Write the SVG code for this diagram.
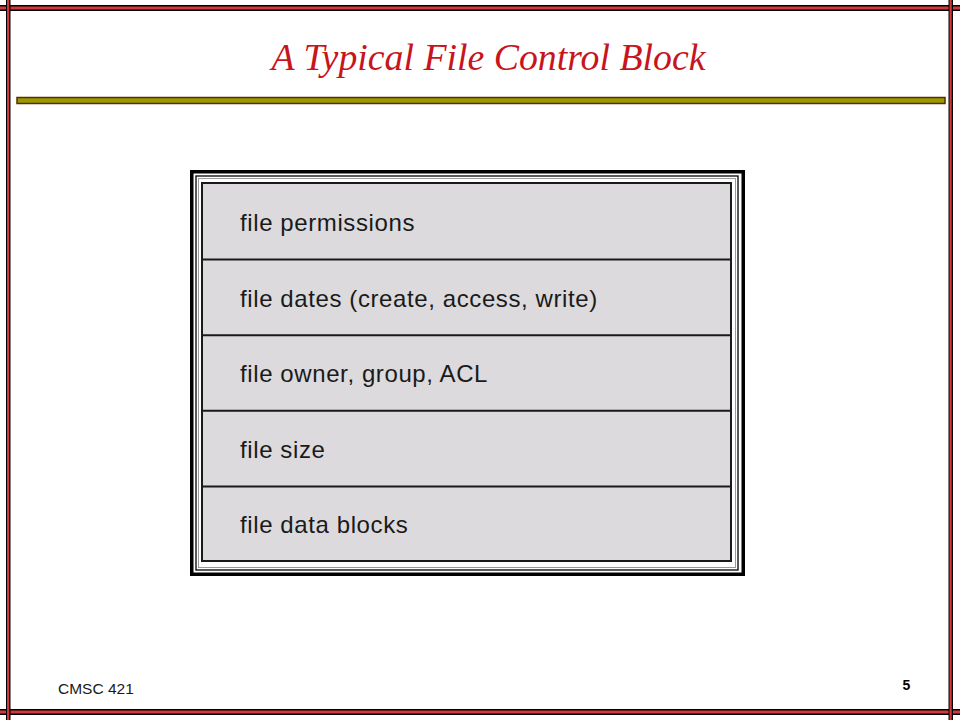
<svg xmlns="http://www.w3.org/2000/svg" width="960" height="720" viewBox="0 0 960 720">
<style>
.fr{fill:#000}
.rd{fill:#d2393d}
.row{font-family:"Liberation Sans",Arial,sans-serif;font-size:24px;letter-spacing:0.6px;fill:#1a1a1a}
.sep{stroke:#1a1a1a;stroke-width:2}
</style>
<rect width="960" height="720" fill="#fff"/>
<g id="frame">
<rect class="fr" x="0" y="5" width="960" height="6"/>
<rect class="rd" x="0" y="6.5" width="960" height="3"/>
<rect class="fr" x="0" y="709" width="960" height="6"/>
<rect class="rd" x="0" y="710.5" width="960" height="3"/>
<rect class="fr" x="6" y="0" width="4.5" height="720"/>
<rect class="rd" x="7" y="0" width="2.2" height="720"/>
<rect class="fr" x="948.5" y="0" width="4.5" height="720"/>
<rect class="rd" x="949.5" y="0" width="2.2" height="720"/>
</g>
<g id="title">
<text x="488.5" y="70" text-anchor="middle" font-family="'Liberation Serif','Times New Roman',serif" font-style="italic" font-size="37.8" fill="#c8141c">A Typical File Control Block</text>
<rect x="17" y="97.5" width="928" height="6" fill="#999900" stroke="#5c2a00" stroke-width="1.5"/>
</g>
<g id="fcb">
<rect x="191.75" y="171.75" width="551.5" height="402.5" fill="#fff" stroke="#000" stroke-width="3.5"/>
<rect x="196" y="176" width="542" height="394" fill="none" stroke="#000" stroke-width="1.3"/>
<rect x="198.5" y="178.5" width="537" height="389" fill="none" stroke="#999" stroke-width="1"/>
<rect x="202" y="183" width="529" height="378" fill="#dcdadd" stroke="#1a1a1a" stroke-width="2"/>
</g>
<g id="connectors">
<line class="sep" x1="202" y1="259.6" x2="731" y2="259.6"/>
<line class="sep" x1="202" y1="335.2" x2="731" y2="335.2"/>
<line class="sep" x1="202" y1="410.8" x2="731" y2="410.8"/>
<line class="sep" x1="202" y1="486.4" x2="731" y2="486.4"/>
</g>
<g id="row-permissions"><text class="row" x="240" y="231">file permissions</text></g>
<g id="row-dates"><text class="row" x="240" y="306.5">file dates (create, access, write)</text></g>
<g id="row-owner"><text class="row" x="240" y="382">file owner, group, ACL</text></g>
<g id="row-size"><text class="row" x="240" y="457.5">file size</text></g>
<g id="row-blocks"><text class="row" x="240" y="533">file data blocks</text></g>
<g id="footer">
<text x="58" y="694" font-family="'Liberation Sans',Arial,sans-serif" font-size="15.5" fill="#1a1a1a">CMSC 421</text>
<text x="906.5" y="690" text-anchor="middle" font-family="'Liberation Sans',Arial,sans-serif" font-size="14" font-weight="bold" fill="#000">5</text>
</g>
</svg>
